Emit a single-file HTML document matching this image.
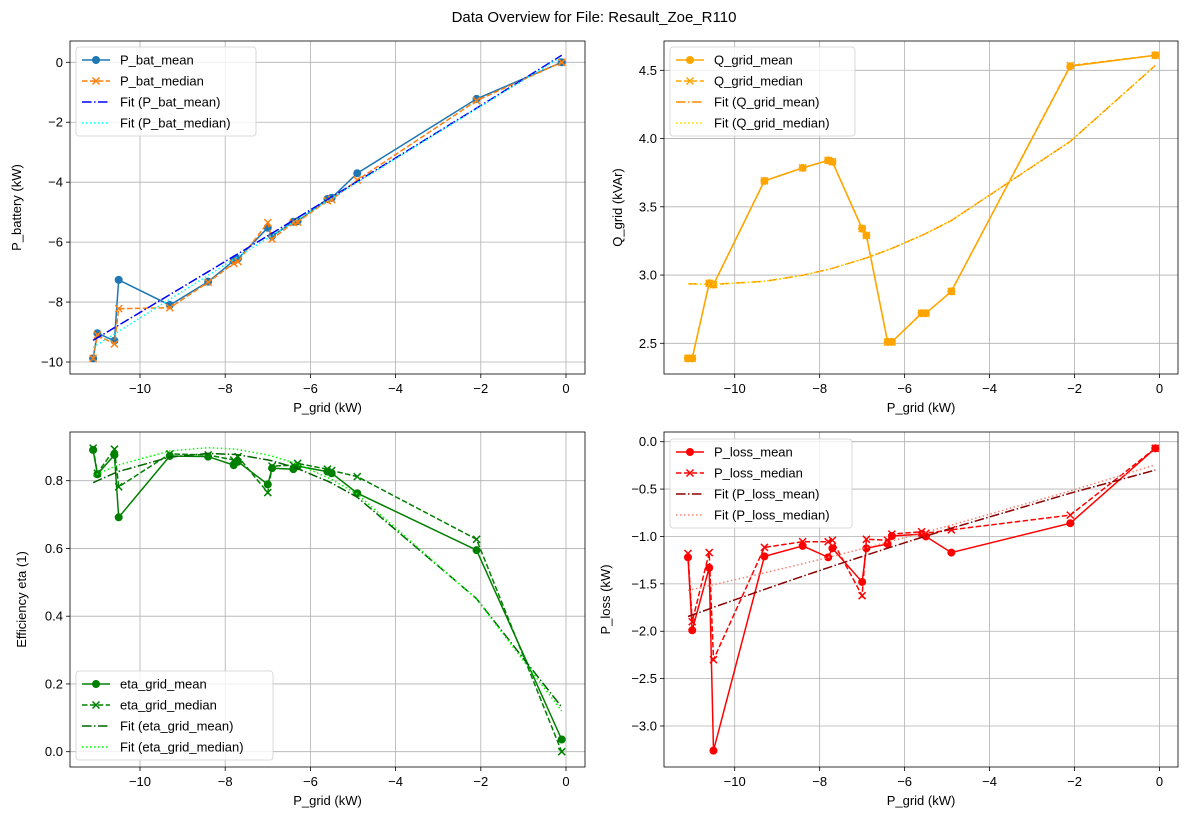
<!DOCTYPE html>
<html><head><meta charset="utf-8"><style>
body{margin:0;background:#fff;}
svg{display:block;font-family:"Liberation Sans","DejaVu Sans",sans-serif;}
</style></head><body>
<svg id="chart" width="1189" height="820" viewBox="0 0 1189 820">
<rect width="1189" height="820" fill="#fff"/>
<text x="594" y="22" text-anchor="middle" font-size="15">Data Overview for File: Resault_Zoe_R110</text>
</svg>
<script>
const pGrid = [-11.1,-11.0,-10.6,-10.5,-9.3,-8.4,-7.8,-7.7,-7.0,-6.9,-6.4,-6.3,-5.6,-5.5,-4.9,-2.1,-0.1];
const pBatMean = [-9.88,-9.04,-9.29,-7.26,-8.10,-7.32,-6.62,-6.55,-5.52,-5.80,-5.32,-5.30,-4.56,-4.52,-3.70,-1.22,0];
const pBatMedian = [-9.88,-9.1,-9.4,-8.22,-8.19,-7.34,-6.71,-6.65,-5.35,-5.9,-5.35,-5.33,-4.62,-4.58,-3.93,-1.28,0];
const qGridMean = [2.39,2.39,2.94,2.93,3.69,3.785,3.84,3.83,3.34,3.29,2.51,2.51,2.72,2.72,2.88,4.53,4.61];
const qGridMedian = [2.39,2.39,2.94,2.93,3.69,3.785,3.84,3.83,3.34,3.29,2.51,2.51,2.72,2.72,2.88,4.535,4.61];
const etaMean = [0.891,0.819,0.876,0.692,0.873,0.871,0.846,0.856,0.789,0.837,0.834,0.843,0.827,0.822,0.763,0.595,0.036];
const etaMedian = [0.896,0.822,0.893,0.782,0.879,0.876,0.861,0.871,0.765,0.843,0.846,0.851,0.834,0.830,0.812,0.627,0.0];
const lossMean = [-1.22,-1.99,-1.33,-3.26,-1.21,-1.10,-1.22,-1.125,-1.48,-1.125,-1.08,-0.995,-0.975,-1.0,-1.17,-0.86,-0.07];
const lossMedian = [-1.18,-1.9,-1.17,-2.30,-1.115,-1.055,-1.055,-1.04,-1.625,-1.03,-1.04,-0.975,-0.95,-0.967,-0.93,-0.775,-0.07];
const xTicks = [-10,-8,-6,-4,-2,0];
const batTicks = [0,-2,-4,-6,-8,-10];
const qTicks = [2.5,3.0,3.5,4.0,4.5];
const etaTicks = [0.0,0.2,0.4,0.6,0.8];
const lossTicks = [0.0,-0.5,-1.0,-1.5,-2.0,-2.5,-3.0];

const NS="http://www.w3.org/2000/svg";
const svg=document.getElementById('chart');
function el(tag,attrs,parent){const e=document.createElementNS(NS,tag);for(const k in attrs)e.setAttribute(k,attrs[k]);(parent||svg).appendChild(e);return e;}
function fmt(v,d){let s=v.toFixed(d);if(Math.abs(v)<1e-9)s=(0).toFixed(d);return s.replace('-','\u2212');}
function polyfit2(x,y){
  let S=[0,0,0,0,0],T=[0,0,0];
  for(let i=0;i<x.length;i++){let p=1;for(let k=0;k<5;k++){S[k]+=p;if(k<3)T[k]+=p*y[i];p*=x[i];}}
  const A=[[S[0],S[1],S[2],T[0]],[S[1],S[2],S[3],T[1]],[S[2],S[3],S[4],T[2]]];
  for(let i=0;i<3;i++){for(let j=i+1;j<3;j++){const f=A[j][i]/A[i][i];for(let k=i;k<4;k++)A[j][k]-=f*A[i][k];}}
  const c=[0,0,0];for(let i=2;i>=0;i--){let s=A[i][3];for(let k=i+1;k<3;k++)s-=A[i][k]*c[k];c[i]=s/A[i][i];}
  return x.map(v=>c[0]+c[1]*v+c[2]*v*v);
}
function panel(cfg){
  const g=el('g',{});
  
  
  const X=v=>cfg.x0+(v-(-10))*(cfg.x1-cfg.x0)/10;
  const Y=v=>cfg.ya+(v-cfg.va)*(cfg.yb-cfg.ya)/(cfg.vb-cfg.va);
  xTicks.forEach(t=>{
    const l=el('line',{x1:X(t),x2:X(t),y1:cfg.top,y2:cfg.bottom,stroke:'#b0b0b0','stroke-width':0.8},g);
    
    
    el('line',{x1:X(t),x2:X(t),y1:cfg.bottom,y2:cfg.bottom+4,stroke:'#000','stroke-width':0.8},g);
    const tx=el('text',{x:X(t),y:cfg.bottom+19,'text-anchor':'middle','font-size':13},g);
    tx.textContent=fmt(t,0);
    
    
  });
  cfg.ticks.forEach(t=>{
    const l=el('line',{x1:cfg.left,x2:cfg.right,y1:Y(t),y2:Y(t),stroke:'#b0b0b0','stroke-width':0.8},g);
    
    
    el('line',{x1:cfg.left-4,x2:cfg.left,y1:Y(t),y2:Y(t),stroke:'#000','stroke-width':0.8},g);
    const tx=el('text',{x:cfg.left-7,y:Y(t)+4.5,'text-anchor':'end','font-size':13},g);
    tx.textContent=fmt(t,cfg.dec);
    
    
  });
  const fitM=polyfit2(pGrid,cfg.mean), fitD=polyfit2(pGrid,cfg.median);
  const pts=arr=>arr.map((v,i)=>X(pGrid[i]).toFixed(1)+','+Y(v).toFixed(1)).join(' ');
  const series=[
    {d:cfg.mean,c:cfg.cm,dash:'',mk:'o',n:'mean-line'},
    {d:cfg.median,c:cfg.cd,dash:'5.5,2.4',mk:'x',n:'median-line'},
    {d:fitM,c:cfg.cfm,dash:'9.6,2.4,1.5,2.4',mk:'',n:'fit-mean-line'},
    {d:fitD,c:cfg.cfd,dash:'1.5,2.5',mk:'',n:'fit-median-line'}];
  series.forEach(s=>{
    const pl=el('polyline',{points:pts(s.d),fill:'none',stroke:s.c,'stroke-width':1.5,'stroke-dasharray':s.dash},g);
    
    
    s.d.forEach((v,i)=>{
      const px=X(pGrid[i]),py=Y(v);
      if(s.mk==='o'){const c=el('circle',{cx:px,cy:py,r:4,fill:s.c},g);
        
        }
      else if(s.mk==='x'){const p=el('path',{d:`M${px-3.5},${py-3.5}L${px+3.5},${py+3.5}M${px-3.5},${py+3.5}L${px+3.5},${py-3.5}`,stroke:s.c,'stroke-width':1.5},g);
        
        }
    });
  });
  const fr=el('rect',{x:cfg.left,y:cfg.top,width:cfg.right-cfg.left,height:cfg.bottom-cfg.top,fill:'none',stroke:'#000','stroke-width':0.8},g);
  
  
  const xl=el('text',{x:(cfg.left+cfg.right)/2,y:cfg.bottom+38,'text-anchor':'middle','font-size':13},g);
  xl.textContent='P_grid (kW)';
  
  
  const yl=el('text',{x:0,y:0,'text-anchor':'middle','font-size':13,transform:`translate(${cfg.ylx},${(cfg.top+cfg.bottom)/2}) rotate(-90)`},g);
  yl.textContent=cfg.ylabel;
  
  
  const L=cfg.leg;
  const lg=el('g',{},g);
  
  
  el('rect',{x:L.x,y:L.y,width:L.w,height:89,rx:3,fill:'#fff','fill-opacity':0.8,stroke:'#d0d0d0','stroke-width':0.8},lg);
  series.forEach((s,i)=>{
    const yy=L.y+13+i*21;
    el('line',{x1:L.x+6,x2:L.x+34,y1:yy,y2:yy,stroke:s.c,'stroke-width':1.5,'stroke-dasharray':s.dash},lg);
    if(s.mk==='o')el('circle',{cx:L.x+20,cy:yy,r:4,fill:s.c},lg);
    if(s.mk==='x')el('path',{d:`M${L.x+16.5},${yy-3.5}L${L.x+23.5},${yy+3.5}M${L.x+16.5},${yy+3.5}L${L.x+23.5},${yy-3.5}`,stroke:s.c,'stroke-width':1.5},lg);
    const t=el('text',{x:L.x+44,y:yy+4.5,'font-size':13},lg);
    t.textContent=cfg.labels[i];
    
    
  });
}
panel({name:'battery-power-panel',left:70,right:585,top:41,bottom:374,x0:140,x1:566,va:0,ya:62.3,vb:-10,yb:362,
  ticks:batTicks,dec:0,mean:pBatMean,median:pBatMedian,cm:'#1f77b4',cd:'#ff7f0e',cfm:'#0000ff',cfd:'#00ffff',
  ylabel:'P_battery (kW)',ylx:21,leg:{x:76,y:47,w:180},labels:['P_bat_mean','P_bat_median','Fit (P_bat_mean)','Fit (P_bat_median)']});
panel({name:'reactive-power-panel',left:664,right:1178,top:41,bottom:374,x0:734.7,x1:1159.5,va:4.5,ya:70.3,vb:2.5,yb:343.3,
  ticks:qTicks,dec:1,mean:qGridMean,median:qGridMedian,cm:'#ffa500',cd:'#ffa500',cfm:'#ff8c00',cfd:'#ffd700',
  ylabel:'Q_grid (kVAr)',ylx:622,leg:{x:670,y:47,w:185},labels:['Q_grid_mean','Q_grid_median','Fit (Q_grid_mean)','Fit (Q_grid_median)']});
panel({name:'efficiency-panel',left:70,right:585,top:432,bottom:767,x0:140,x1:566,va:0.8,ya:480.7,vb:0,yb:751.7,
  ticks:etaTicks,dec:1,mean:etaMean,median:etaMedian,cm:'#008000',cd:'#008000',cfm:'#006400',cfd:'#00ff00',
  ylabel:'Efficiency eta (1)',ylx:26,leg:{x:76,y:671,w:197},labels:['eta_grid_mean','eta_grid_median','Fit (eta_grid_mean)','Fit (eta_grid_median)']});
panel({name:'power-loss-panel',left:664,right:1178,top:432,bottom:767,x0:734.7,x1:1159.5,va:0,ya:441.7,vb:-3,yb:726,
  ticks:lossTicks,dec:1,mean:lossMean,median:lossMedian,cm:'#ff0000',cd:'#ff0000',cfm:'#8b0000',cfd:'#fa8072',
  ylabel:'P_loss (kW)',ylx:610,leg:{x:670,y:439,w:182},labels:['P_loss_mean','P_loss_median','Fit (P_loss_mean)','Fit (P_loss_median)']});
</script>
</body></html>
